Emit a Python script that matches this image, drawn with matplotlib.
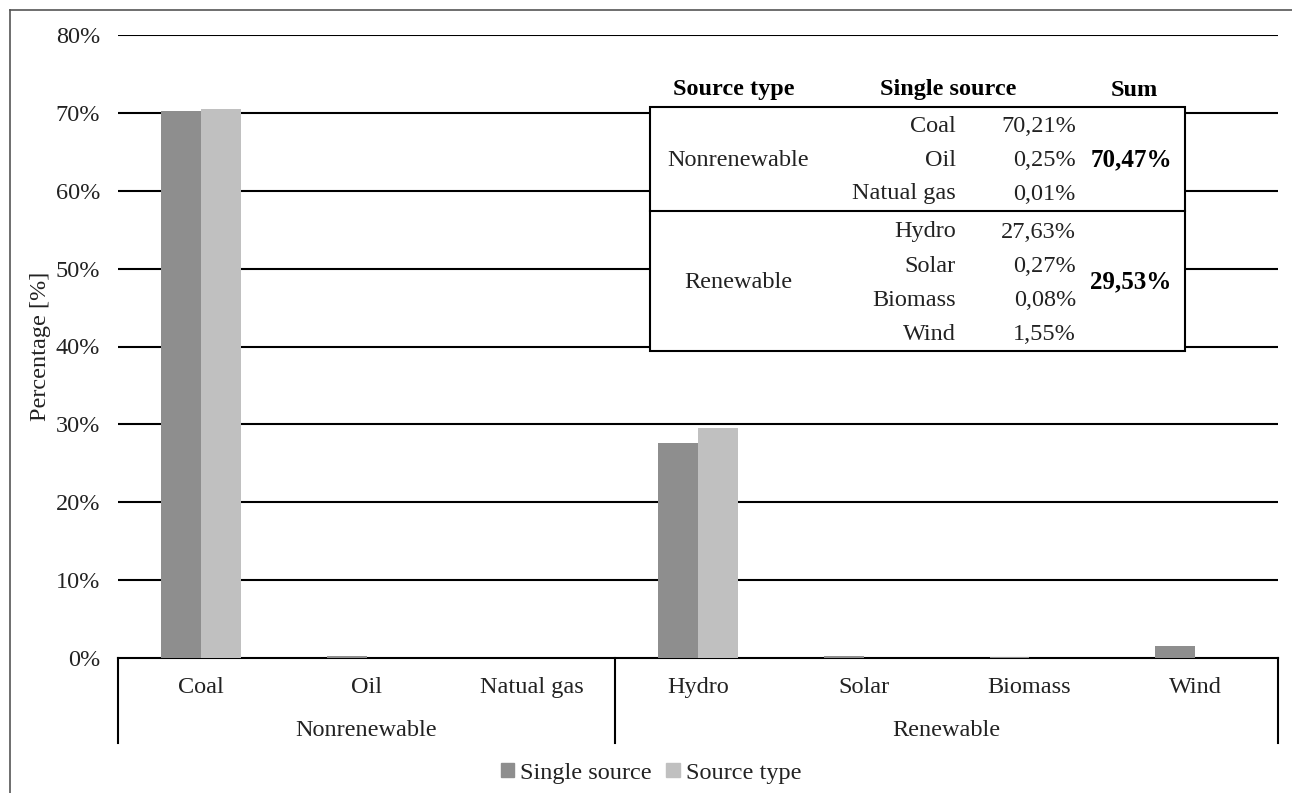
import matplotlib
matplotlib.use("Agg")
import matplotlib.pyplot as plt
from matplotlib.patches import Rectangle
from matplotlib.lines import Line2D
import numpy as np

plt.rcParams['font.family'] = ['Liberation Serif', 'DejaVu Serif']

# Data
categories = ["Coal", "Oil", "Natual gas", "Hydro", "Solar", "Biomass", "Wind"]
groups = ["Nonrenewable", "Renewable"]
group_sizes = [3, 4]
single_source = [70.21, 0.25, 0.01, 27.63, 0.27, 0.08, 1.55]
source_type = [70.47, 0, 0, 29.53, 0, 0, 0]
group_sums = [70.47, 29.53]
y_ticks = [0, 10, 20, 30, 40, 50, 60, 70, 80]
series_names = ["Single source", "Source type"]
table_headers = ["Source type", "Single source", "Sum"]

W, H = 1292, 793
fig = plt.figure(figsize=(W / 100, H / 100), dpi=100)
FS = 17.5
TXT = '#222222'


def fx(x):
    return x / W


def fy(y):
    return 1 - y / H


# outer frame (top and left edges)
fig.lines.append(Line2D([fx(10), 1.0], [fy(10), fy(10)], transform=fig.transFigure,
                        color='#555555', lw=1.2))
fig.lines.append(Line2D([fx(10), fx(10)], [fy(10), 0.0], transform=fig.transFigure,
                        color='#555555', lw=1.2))

ax_left, ax_right, ax_top, ax_bot = 118, 1278, 35, 658
ax = fig.add_axes([fx(ax_left), fy(ax_bot), fx(ax_right - ax_left), fy(ax_top) - fy(ax_bot)])

n = len(categories)
x = np.arange(n)
bw = 0.24
c_dark = '#8e8e8e'
c_light = '#c0c0c0'
ax.bar(x - bw / 2, single_source, bw, color=c_dark, zorder=3)
ax.bar(x + bw / 2, source_type, bw, color=c_light, zorder=3)

ax.set_xlim(-0.5, n - 0.5)
ax.set_ylim(0, 80)
ax.set_yticks(y_ticks)
ax.set_yticklabels([f"{v}%" for v in y_ticks], fontsize=FS, color=TXT)
ax.tick_params(axis='y', length=0, pad=13)
ax.set_xticks([])
for v in y_ticks[1:]:
    ax.axhline(v, color='black', lw=1.5, zorder=1)
for s in ['top', 'right', 'left']:
    ax.spines[s].set_visible(False)
ax.spines['bottom'].set_color('black')
ax.spines['bottom'].set_linewidth(1.5)
ax.set_ylabel("Percentage [%]", fontsize=FS, labelpad=3, color=TXT)

# category labels and group separators beneath the axis
trans = ax.get_xaxis_transform()
for i, c in enumerate(categories):
    ax.text(i, -0.048, c, transform=trans, ha='center', va='center',
            fontsize=FS, color=TXT)
bounds = np.concatenate([[0], np.cumsum(group_sizes)]) - 0.5
for b in bounds:
    ax.add_line(Line2D([b, b], [0, -0.137], transform=trans, color='black',
                       lw=1.5, clip_on=False))
for g, lo, hi in zip(groups, bounds[:-1], bounds[1:]):
    ax.text((lo + hi) / 2, -0.116, g, transform=trans, ha='center', va='center',
            fontsize=FS, color=TXT)

# legend
handles = [Rectangle((0, 0), 1, 1, color=c_dark), Rectangle((0, 0), 1, 1, color=c_light)]
fig.legend(handles, series_names, loc='center', bbox_to_anchor=(fx(651), fy(773)),
           ncol=2, frameon=False, fontsize=FS, handlelength=0.55, handleheight=0.55,
           handletextpad=0.25, columnspacing=0.6, labelcolor=TXT)

# summary table drawn over the plot
tb_l, tb_r, tb_t, tb_m, tb_b = 650, 1185, 107, 211, 351
fig.patches.append(Rectangle((fx(tb_l), fy(tb_b)), fx(tb_r - tb_l), fy(tb_t) - fy(tb_b),
                             transform=fig.transFigure, facecolor='white',
                             edgecolor='black', lw=1.5, zorder=5))
fig.lines.append(Line2D([fx(tb_l), fx(tb_r)], [fy(tb_m), fy(tb_m)],
                        transform=fig.transFigure, color='black', lw=1.5, zorder=6))

hdr_x = [734, 948, 1134]
for hx, h in zip(hdr_x, table_headers):
    fig.text(fx(hx), fy(90), h, ha='center', va='center', fontsize=FS,
             fontweight='bold', zorder=7)

row_y = [126, 160, 194, 232, 266, 300, 335]
group_y = [160, 282]
for i, (c, v) in enumerate(zip(categories, single_source)):
    fig.text(fx(956), fy(row_y[i]), c, ha='right', va='center', fontsize=FS,
             color=TXT, zorder=7)
    fig.text(fx(1076), fy(row_y[i]), f"{v:.2f}%".replace('.', ','), ha='right',
             va='center', fontsize=FS, color=TXT, zorder=7)
for g, gy, s in zip(groups, group_y, group_sums):
    fig.text(fx(738), fy(gy), g, ha='center', va='center', fontsize=FS,
             color=TXT, zorder=7)
    fig.text(fx(1131), fy(gy), f"{s:.2f}%".replace('.', ','), ha='center',
             va='center', fontsize=FS + 0.5, fontweight='bold', zorder=7)

fig.savefig("out.png", dpi=100)
